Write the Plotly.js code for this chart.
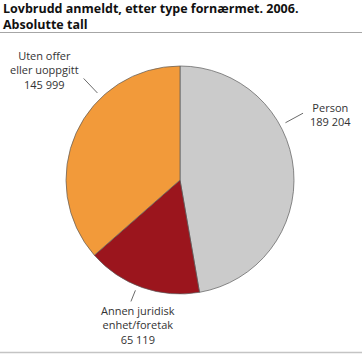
<!DOCTYPE html>
<html><head><meta charset="utf-8">
<script src="https://cdn.plot.ly/plotly-3.0.1.min.js"></script>
<style>html,body{margin:0;padding:0;background:#fff}#c{width:362px;height:354px}</style>
</head><body><div id="c"></div>
<script>
var categories = ["Person", "Annen juridisk enhet/foretak", "Uten offer eller uoppgitt"];
var labelTexts = ["Person", "Annen juridisk<br>enhet/foretak", "Uten offer<br>eller uoppgitt"];
var values = [189204, 65119, 145999];
var colors = ["#cbcbcb", "#9b151d", "#f29a3a"];
var titleLines = ["Lovbrudd anmeldt, etter type fornærmet. 2006.", "Absolutte tall"];

var W = 362, H = 354;
var cx = 180, cy = 180, R = 114;
// label placement: angle (deg clockwise from top) for leader line, and text anchor offsets
var labelStyle = [
  {ang: 61.5, r1: 120, r2: 140, dx: 5, dy: 1, xa: "left", ya: "middle"},
  {ang: 202, r1: 119, r2: 131, dx: 7, dy: -0.5, xa: "center", ya: "top"},
  {ang: 316.5, r1: 120, r2: 140, dx: -3, dy: -8, xa: "right", ya: "middle"}
];
function fmt(v){return String(v).replace(/\B(?=(\d{3})+(?!\d))/g, "\u00a0");}
function px(x){return x / W;}
function py(y){return 1 - y / H;}

var shapes = [
  {type:"line", xref:"paper", yref:"paper", x0:0, x1:1, y0:py(32.5), y1:py(32.5), line:{color:"#a6a6a6", width:1}},
  {type:"line", xref:"paper", yref:"paper", x0:0, x1:1, y0:py(352.5), y1:py(352.5), line:{color:"#c4c4c4", width:1.5}}
];
var annotations = [];
annotations.push({xref:"paper", yref:"paper", x:px(1), y:py(17), xanchor:"left", yanchor:"middle",
  text: titleLines.join("<br>"), showarrow:false, align:"left",
  font:{family:"Open Sans, sans-serif", size:12.5, color:"#111", weight:"bold"}});
for (var i = 0; i < values.length; i++) {
  var s = labelStyle[i], a = s.ang * Math.PI / 180;
  var x1 = cx + s.r1 * Math.sin(a), y1 = cy - s.r1 * Math.cos(a);
  var x2 = cx + s.r2 * Math.sin(a), y2 = cy - s.r2 * Math.cos(a);
  shapes.push({type:"line", xref:"paper", yref:"paper", x0:px(x1), y0:py(y1), x1:px(x2), y1:py(y2), line:{color:"#444", width:0.8}});
  annotations.push({xref:"paper", yref:"paper", x:px(x2 + s.dx), y:py(y2 + s.dy), xanchor:s.xa, yanchor:s.ya,
    text: labelTexts[i] + "<br>" + fmt(values[i]), showarrow:false, align:"center",
    font:{family:"Open Sans, sans-serif", size:11, color:"#333"}});
}

var data = [{
  type: "pie", values: values, labels: categories, sort: false, direction: "clockwise", rotation: 0,
  marker: {colors: colors, line: {color: "#5a5a5a", width: 0.7}},
  textinfo: "none", hoverinfo: "label+value", showlegend: false,
  domain: {x: [px(cx - R), px(cx + R)], y: [py(cy + R), py(cy - R)]}
}];
var layout = {
  width: W, height: H, margin: {l:0, r:0, t:0, b:0}, paper_bgcolor: "#fff",
  shapes: shapes, annotations: annotations
};
Plotly.newPlot("c", data, layout, {displayModeBar: false, staticPlot: true});
</script></body></html>
